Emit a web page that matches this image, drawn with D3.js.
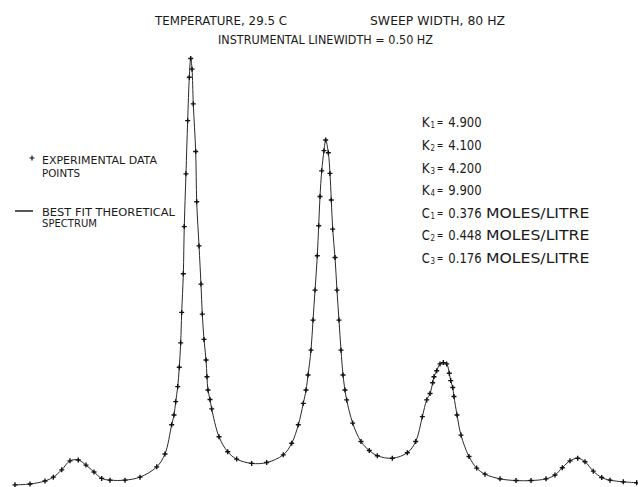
<!DOCTYPE html>
<html>
<head>
<meta charset="utf-8">
<script src="https://cdn.jsdelivr.net/npm/d3@7"></script>
<style>
  body { margin: 0; background: #fff; }
  text { font-family: "DejaVu Sans", sans-serif; fill: #1a1a1a; }
</style>
</head>
<body>
<div id="chart"></div>
<script>
// experimental points (frequency in Hz across the 80 Hz sweep, relative intensity)
const freqHz = [
  0.00, 1.93, 3.86, 4.93, 6.01, 7.07, 8.14, 9.13, 10.16, 11.15, 12.22, 14.15, 16.08, 18.23, 19.29,
  20.15, 20.45, 20.67, 20.93, 21.13, 21.31, 21.44, 21.65, 21.77, 21.99, 22.21, 22.42, 22.60,
  22.77, 22.93, 23.24, 23.37, 23.67, 23.92, 24.09, 24.31, 24.57, 24.69, 24.82, 25.08, 25.30,
  26.24, 27.36, 28.51, 30.44, 32.37, 34.51, 35.59, 36.44, 37.08, 37.43, 37.69, 38.07, 38.33,
  38.59, 38.88, 39.06, 39.23, 39.45, 39.74, 39.96, 40.30, 40.51, 40.68, 40.86, 41.16, 41.41,
  41.67, 41.93, 42.19, 42.44, 42.66, 43.43, 44.50, 45.57, 46.60, 48.53, 50.46, 51.54, 52.39,
  52.95, 53.38, 53.72, 53.89, 54.24, 54.66, 55.09, 55.52, 55.86, 56.04, 56.30, 56.46, 56.85,
  57.36, 58.39, 59.38, 60.45, 62.38, 64.44, 66.37, 68.30, 69.45, 70.39, 71.38, 72.37, 73.31,
  74.38, 75.46, 76.53, 78.24, 79.96
];
const intensity = [
  0.5, 0.7, 1.4, 2.3, 4.0, 6.1, 6.3, 5.1, 3.5, 2.0, 1.6, 1.6, 2.3, 4.7, 7.7,
  14.5, 16.8, 19.9, 23.4, 27.9, 33.6, 40.7, 49.7, 60.7, 73.0, 85.4, 95.5, 99.9,
  97.4, 89.3, 78.2, 66.5, 56.2, 47.3, 40.3, 34.4, 29.6, 25.7, 22.6, 20.4, 18.2,
  11.7, 8.2, 6.5, 5.5, 5.7, 7.5, 10.2, 14.5, 19.5, 22.6, 26.1, 31.9, 38.9,
  45.9, 53.9, 60.9, 67.7, 73.7, 78.4, 80.9, 77.9, 73.1, 66.9, 60.1, 53.5, 45.9,
  38.9, 31.9, 26.1, 22.6, 20.3, 14.9, 10.6, 8.5, 7.3, 6.7, 8.0, 10.6, 16.4,
  20.3, 21.8, 24.3, 25.7, 27.1, 28.7, 29.0, 28.7, 26.5, 24.8, 23.2, 21.1, 16.8,
  12.1, 7.1, 4.4, 3.0, 1.9, 1.5, 1.5, 1.9, 2.8, 4.5, 6.1, 6.7, 5.9,
  3.7, 2.2, 1.6, 1.2, 1.0
];

const headerLines = ["TEMPERATURE, 29.5 C", "SWEEP WIDTH, 80 HZ", "INSTRUMENTAL LINEWIDTH = 0.50 HZ"];
const legendLabels = [["EXPERIMENTAL DATA", "POINTS"], ["BEST FIT THEORETICAL", "SPECTRUM"]];
const kValues = ["4.900", "4.100", "4.200", "9.900"];
const cValues = ["0.376", "0.448", "0.176"];
const concUnit = "MOLES/LITRE";

const width = 638, height = 487;

const svg = d3.select("#chart").append("svg")
  .attr("width", width)
  .attr("height", height);

// scales
const x = d3.scaleLinear().domain([0, 80]).range([15, 637]);
const y = d3.scaleLinear().domain([0, 100]).range([487, 58]);

const points = freqHz.map((f, i) => ({f: f, v: intensity[i]}));

// theoretical spectrum
const line = d3.line()
  .x(d => x(d.f))
  .y(d => y(d.v))
  .curve(d3.curveCatmullRom.alpha(0.5));

svg.append("path")
  .datum(points)
  .attr("fill", "none")
  .attr("stroke", "#2a2a2a")
  .attr("stroke-width", 1)
  .attr("d", line);

// experimental data points as small crosses
const cross = "M-2.5,0H2.5M0,-2.5V2.5";
svg.append("g").selectAll("path")
  .data(points)
  .join("path")
  .attr("transform", d => "translate(" + x(d.f) + "," + y(d.v) + ")")
  .attr("d", cross)
  .attr("stroke", "#111")
  .attr("stroke-width", 1.4);

// text helper, stretched to the width seen in the plot
function label(str, x0, yb, len, size) {
  return svg.append("text")
    .attr("x", x0)
    .attr("y", yb)
    .attr("font-size", size)
    .attr("textLength", len)
    .attr("lengthAdjust", "spacingAndGlyphs")
    .text(str);
}

// header
label(headerLines[0], 155, 24.5, 132, 11.5);
label(headerLines[1], 370, 24.5, 135, 11.5);
label(headerLines[2], 218, 44, 215, 11.5);

// legend
svg.append("path")
  .attr("transform", "translate(32,158)")
  .attr("d", cross)
  .attr("stroke", "#111")
  .attr("stroke-width", 1.2);
label(legendLabels[0][0], 42, 163.5, 115, 10);
label(legendLabels[0][1], 42, 177, 38, 10);

svg.append("line")
  .attr("x1", 15).attr("x2", 33)
  .attr("y1", 211).attr("y2", 211)
  .attr("stroke", "#111")
  .attr("stroke-width", 1.4);
label(legendLabels[1][0], 42, 215.5, 133, 10);
label(legendLabels[1][1], 42, 227, 55, 10);

// fitted parameters
const params = kValues.map((v, i) => ({sym: "K", sub: String(i + 1), val: v, unit: null}))
  .concat(cValues.map((v, i) => ({sym: "C", sub: String(i + 1), val: v, unit: concUnit})));

params.forEach((p, i) => {
  const yb = 127.3 + i * 22.6;
  label(p.sym, 421.7, yb, 8, 14);
  label(p.sub, 430.5, yb + 1, 4.5, 8);
  label("=", 436.7, yb - 1, 6.6, 12);
  label(p.val, 448.3, yb, 33.3, 14);
  if (p.unit) label(p.unit, 486, yb, 103.3, 14);
});
</script>
</body>
</html>
